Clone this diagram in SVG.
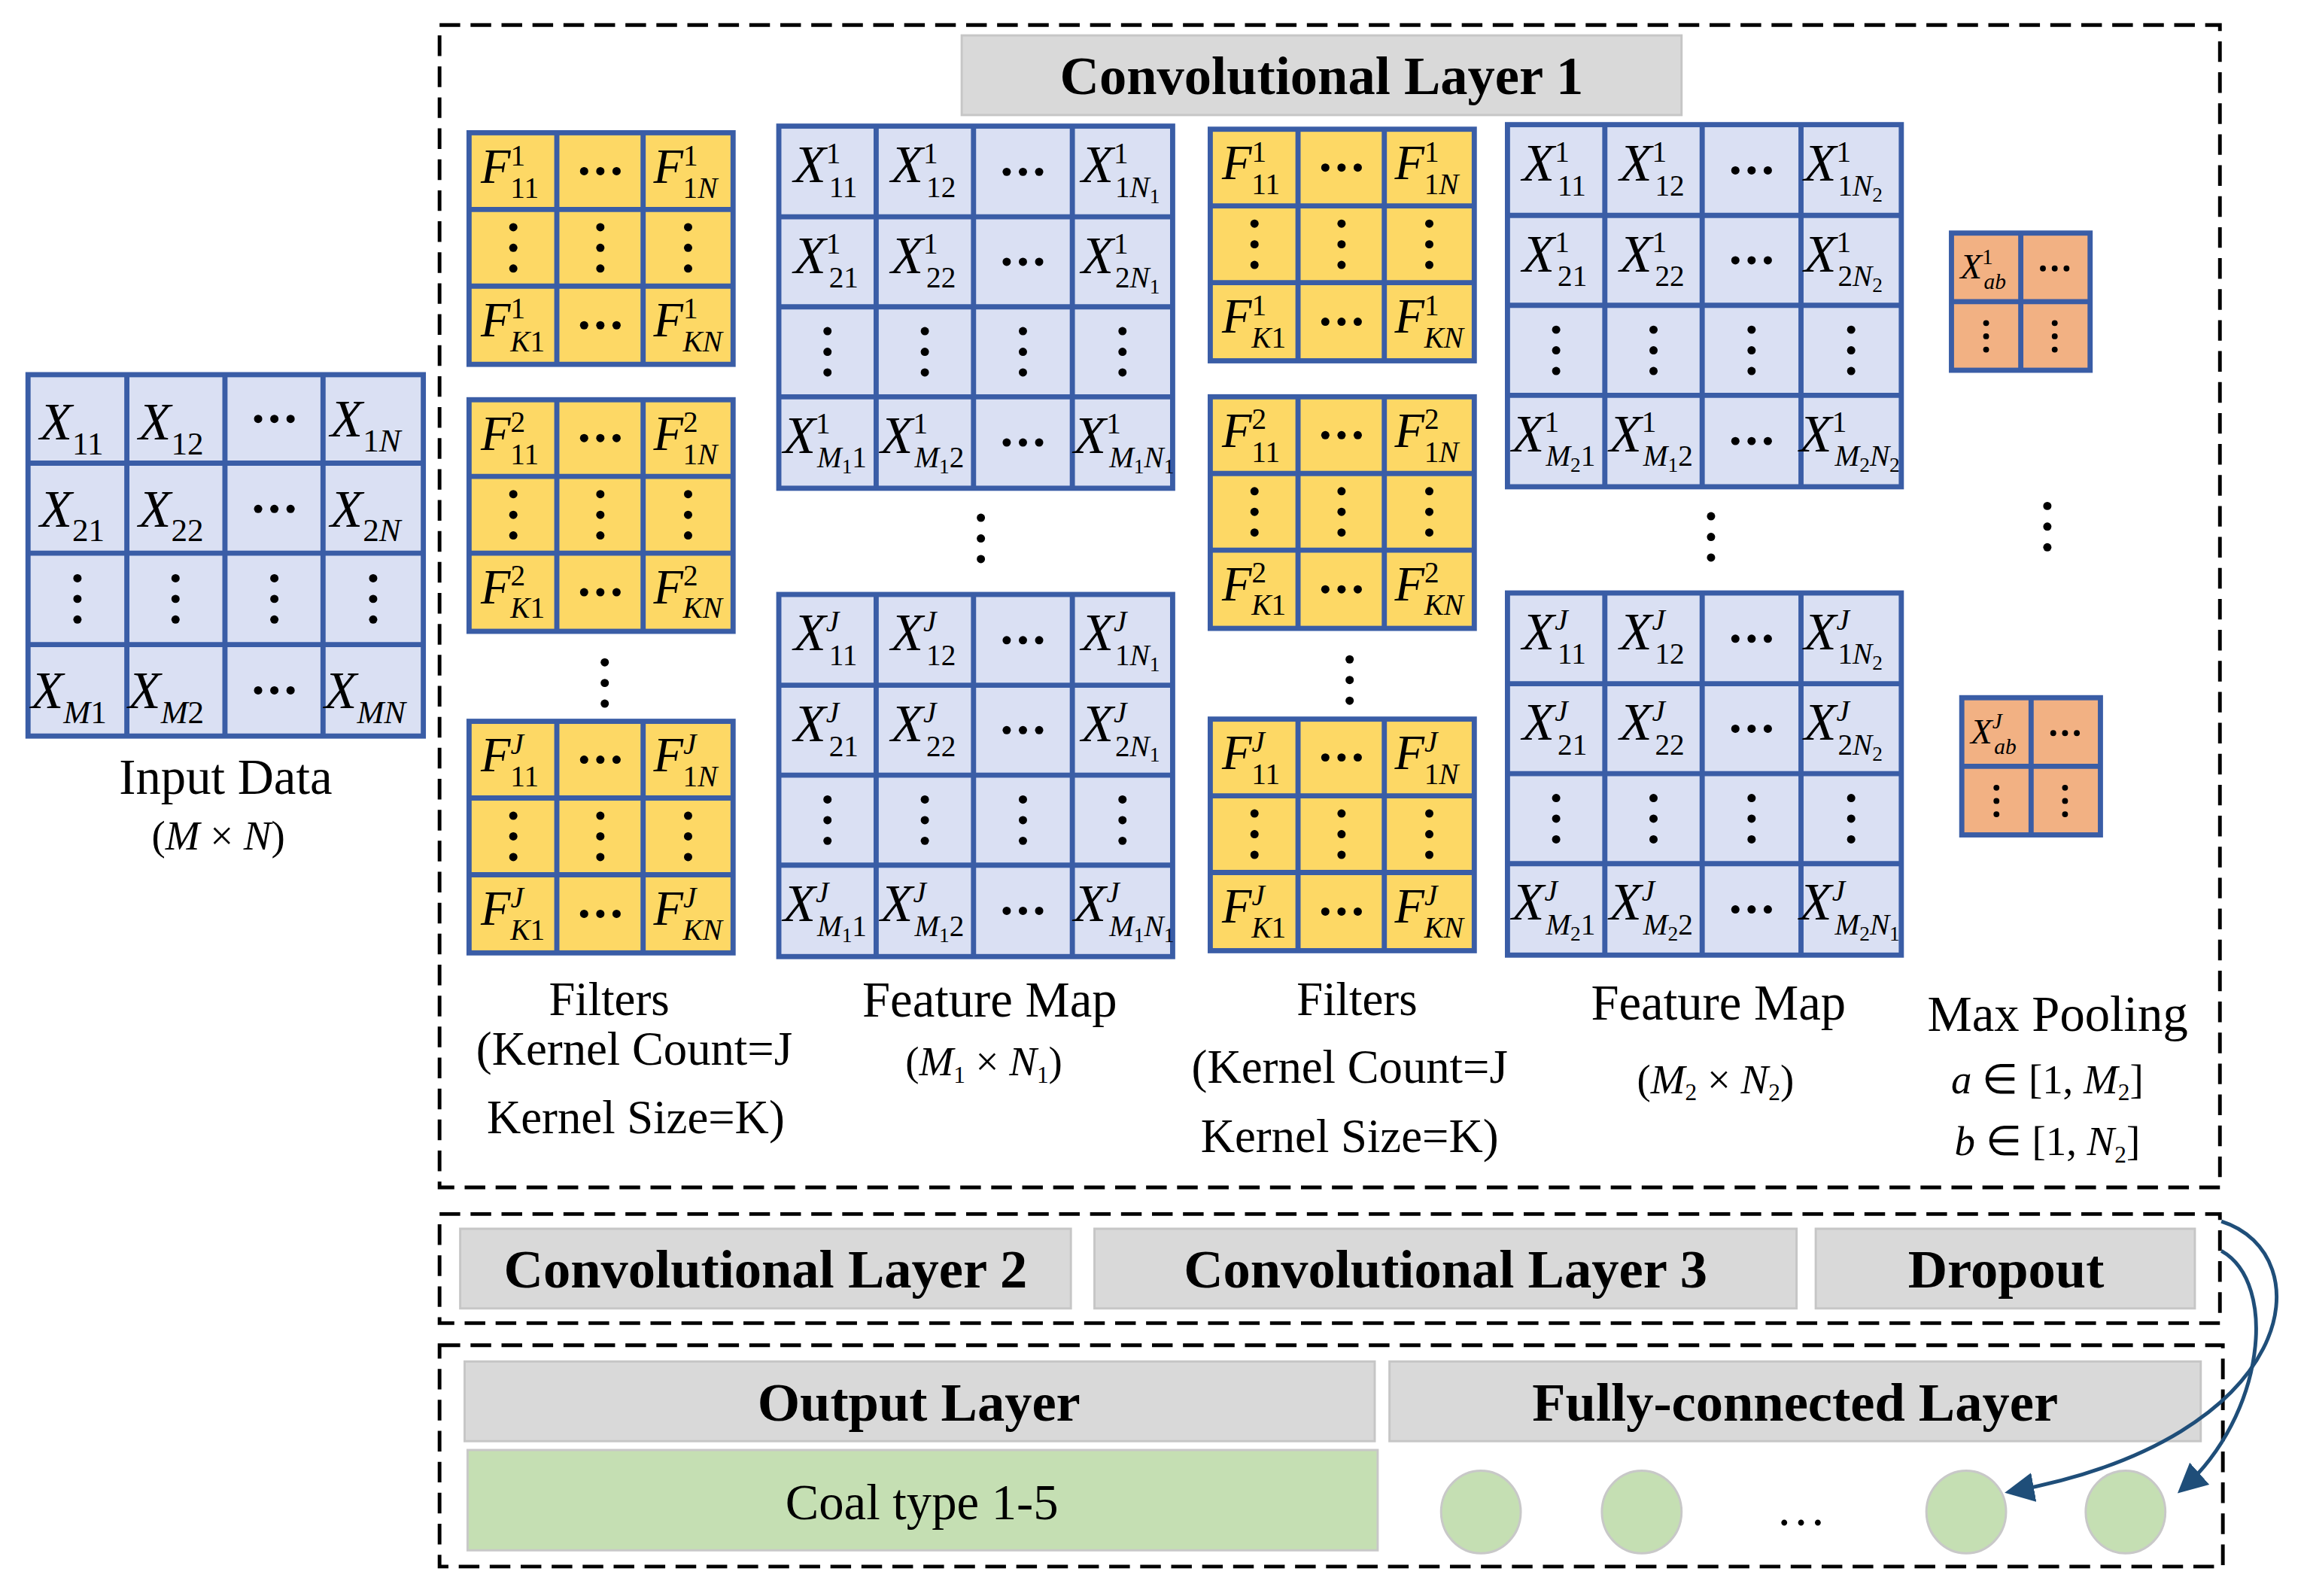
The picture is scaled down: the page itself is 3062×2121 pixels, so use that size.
<svg xmlns="http://www.w3.org/2000/svg" xmlns:xlink="http://www.w3.org/1999/xlink" width="3062" height="2121" viewBox="0 0 3062 2121">
<style>
text{font-family:"Liberation Serif",serif;fill:#000}
.v{font-style:italic;font-size:36px}
.f{font-style:italic;font-size:33px}
.p{font-style:italic;font-size:24px}
.n{font-style:normal}
.s{font-size:22px}
.t{font-size:20px}
.u{font-size:14px}
.q{font-size:15px}
.lab{font-size:34px;text-anchor:middle}
.lb2{font-size:32px;text-anchor:middle}
.b{font-weight:bold;font-size:37px;text-anchor:middle}
.blue{fill:#DAE0F3;stroke:#3A5DA6;stroke-width:3.5}
.yel{fill:#FDD865;stroke:#3A5DA6;stroke-width:3.5}
.org{fill:#F2B183;stroke:#3A5DA6;stroke-width:3.5}
.ln{stroke:#3A5DA6;stroke-width:3.5}
.gray{fill:#D9D9D9;stroke:#C6C6C6;stroke-width:1.5}
.dash{fill:none;stroke:#000;stroke-width:2.5;stroke-dasharray:14 7}
.arr{fill:none;stroke:#1F4E79;stroke-width:2.5;marker-end:url(#ah)}
</style>
<defs>
<marker id="ah" markerWidth="8" markerHeight="8" refX="6" refY="4" orient="auto" markerUnits="strokeWidth"><path d="M0,0 L8,4 L0,8 z" fill="#1F4E79"/></marker>
<g id="hd"><circle cx="-11" cy="0" r="2.8"/><circle cx="0" cy="0" r="2.8"/><circle cx="11" cy="0" r="2.8"/></g>
<g id="vd"><circle cx="0" cy="-14" r="2.8"/><circle cx="0" cy="0" r="2.8"/><circle cx="0" cy="14" r="2.8"/></g>
<g id="hds"><circle cx="-8" cy="0" r="2"/><circle cx="0" cy="0" r="2"/><circle cx="8" cy="0" r="2"/></g>
<g id="vds"><circle cx="0" cy="-9" r="2"/><circle cx="0" cy="0" r="2"/><circle cx="0" cy="9" r="2"/></g>
<g id="fgrid"><rect class="yel" x="0" y="0" width="179" height="157"/><path class="ln" d="M59.5,0V157M118,0V157M0,52H179M0,104H179"/>
<use xlink:href="#hd" x="89" y="26"/><use xlink:href="#hd" x="89" y="130.5"/><use xlink:href="#vd" x="30" y="78"/><use xlink:href="#vd" x="89" y="78"/><use xlink:href="#vd" x="148.5" y="78"/></g>
<g id="mgrid"><rect class="blue" x="0" y="0" width="267" height="245.5"/><path class="ln" d="M66,0V245.5M132,0V245.5M199,0V245.5M0,61.5H267M0,122.5H267M0,183.5H267"/>
<use xlink:href="#hd" x="165.5" y="31"/><use xlink:href="#hd" x="165.5" y="92"/><use xlink:href="#hd" x="165.5" y="214.5"/>
<use xlink:href="#vd" x="33" y="153"/><use xlink:href="#vd" x="99" y="153"/><use xlink:href="#vd" x="165.5" y="153"/><use xlink:href="#vd" x="233" y="153"/></g>
<g id="pgrid"><rect class="org" x="0" y="0" width="94" height="93"/><path class="ln" d="M47,0V93M0,46.5H94"/><use xlink:href="#hds" x="70" y="24"/><use xlink:href="#vds" x="23.5" y="70"/><use xlink:href="#vds" x="70" y="70"/></g>
</defs>
<rect width="3062" height="2121" fill="#fff"/>
<g transform="scale(1.9603)">
<g id="frames">
<rect class="dash" x="298" y="17" width="1207" height="788"/>
<rect class="dash" x="298" y="823" width="1207" height="74"/>
<rect class="dash" x="298" y="912" width="1209" height="150"/>
</g>
<g id="input">
<rect class="blue" x="19" y="254" width="268" height="245"/>
<path class="ln" d="M86,254V499M152.5,254V499M219,254V499M19,314H287M19,375H287M19,437H287"/>
<text class="v" x="27" y="298">X<tspan class="s n" dy="10">11</tspan></text>
<text class="v" x="94" y="298">X<tspan class="s n" dy="10">12</tspan></text>
<use xlink:href="#hd" x="186" y="284"/>
<text class="v" x="224" y="296">X<tspan class="s" dy="10"><tspan class="n">1</tspan>N</tspan></text>
<text class="v" x="27" y="357">X<tspan class="s n" dy="10">21</tspan></text>
<text class="v" x="94" y="357">X<tspan class="s n" dy="10">22</tspan></text>
<use xlink:href="#hd" x="186" y="345"/>
<text class="v" x="224" y="357">X<tspan class="s" dy="10"><tspan class="n">2</tspan>N</tspan></text>
<use xlink:href="#vd" x="52.5" y="406"/><use xlink:href="#vd" x="119" y="406"/><use xlink:href="#vd" x="186" y="406"/><use xlink:href="#vd" x="253" y="406"/>
<text class="v" x="21" y="480">X<tspan class="s" dy="10">M<tspan class="n">1</tspan></tspan></text>
<text class="v" x="87" y="480">X<tspan class="s" dy="10">M<tspan class="n">2</tspan></tspan></text>
<use xlink:href="#hd" x="186" y="468"/>
<text class="v" x="220" y="480">X<tspan class="s" dy="10">MN</tspan></text>
<text class="lab" x="153" y="538">Input Data</text>
<text class="lab" x="148" y="576" style="font-size:28px">(<tspan font-style="italic">M</tspan> × <tspan font-style="italic">N</tspan>)</text>
</g>
<g id="title1"><rect class="gray" x="652" y="24" width="488" height="54"/><text class="b" x="896" y="64">Convolutional Layer 1</text></g>
<g id="filters1">
<g transform="translate(318,90)"><use xlink:href="#fgrid"/>
<text class="f" x="8" y="34">F<tspan class="t n" dy="-12">1</tspan><tspan class="t n" x="28" dy="22">11</tspan></text>
<text class="f" x="125" y="34">F<tspan class="t n" dy="-12">1</tspan><tspan class="t" x="145" dy="22"><tspan class="n">1</tspan>N</tspan></text>
<text class="f" x="8" y="138">F<tspan class="t n" dy="-12">1</tspan><tspan class="t" x="28" dy="22">K<tspan class="n">1</tspan></tspan></text>
<text class="f" x="125" y="138">F<tspan class="t n" dy="-12">1</tspan><tspan class="t" x="145" dy="22">KN</tspan></text></g>
<g transform="translate(318,271)"><use xlink:href="#fgrid"/>
<text class="f" x="8" y="34">F<tspan class="t n" dy="-12">2</tspan><tspan class="t n" x="28" dy="22">11</tspan></text>
<text class="f" x="125" y="34">F<tspan class="t n" dy="-12">2</tspan><tspan class="t" x="145" dy="22"><tspan class="n">1</tspan>N</tspan></text>
<text class="f" x="8" y="138">F<tspan class="t n" dy="-12">2</tspan><tspan class="t" x="28" dy="22">K<tspan class="n">1</tspan></tspan></text>
<text class="f" x="125" y="138">F<tspan class="t n" dy="-12">2</tspan><tspan class="t" x="145" dy="22">KN</tspan></text></g>
<use xlink:href="#vd" x="410" y="463"/>
<g transform="translate(318,489)"><use xlink:href="#fgrid"/>
<text class="f" x="8" y="34">F<tspan class="t" dy="-12">J</tspan><tspan class="t n" x="28" dy="22">11</tspan></text>
<text class="f" x="125" y="34">F<tspan class="t" dy="-12">J</tspan><tspan class="t" x="145" dy="22"><tspan class="n">1</tspan>N</tspan></text>
<text class="f" x="8" y="138">F<tspan class="t" dy="-12">J</tspan><tspan class="t" x="28" dy="22">K<tspan class="n">1</tspan></tspan></text>
<text class="f" x="125" y="138">F<tspan class="t" dy="-12">J</tspan><tspan class="t" x="145" dy="22">KN</tspan></text></g>
<text class="lb2" x="413" y="688">Filters</text>
<text class="lb2" x="430" y="722">(Kernel Count=J</text>
<text class="lb2" x="431" y="768">Kernel Size=K)</text>
</g>
<g id="fmap1">
<g transform="translate(528,85.5)"><use xlink:href="#mgrid"/>
<text class="v" x="10" y="38">X<tspan class="t n" dy="-13">1</tspan><tspan class="t n" x="34" dy="23">11</tspan></text>
<text class="v" x="76" y="38">X<tspan class="t n" dy="-13">1</tspan><tspan class="t n" x="100" dy="23">12</tspan></text>
<text class="v" x="205" y="38">X<tspan class="t n" dy="-13">1</tspan><tspan class="t" x="228" dy="23"><tspan class="n">1</tspan>N<tspan class="u n" dy="4">1</tspan></tspan></text>
<text class="v" x="10" y="99.5">X<tspan class="t n" dy="-13">1</tspan><tspan class="t n" x="34" dy="23">21</tspan></text>
<text class="v" x="76" y="99.5">X<tspan class="t n" dy="-13">1</tspan><tspan class="t n" x="100" dy="23">22</tspan></text>
<text class="v" x="205" y="99.5">X<tspan class="t n" dy="-13">1</tspan><tspan class="t" x="228" dy="23"><tspan class="n">2</tspan>N<tspan class="u n" dy="4">1</tspan></tspan></text>
<text class="v" x="3" y="221.5">X<tspan class="t n" dy="-13">1</tspan><tspan class="t" x="26" dy="23">M<tspan class="u n" dy="4">1</tspan><tspan class="n" dy="-4">1</tspan></tspan></text>
<text class="v" x="69" y="221.5">X<tspan class="t n" dy="-13">1</tspan><tspan class="t" x="92" dy="23">M<tspan class="u n" dy="4">1</tspan><tspan class="n" dy="-4">2</tspan></tspan></text>
<text class="v" x="200" y="221.5">X<tspan class="t n" dy="-13">1</tspan><tspan class="t" x="224" dy="23">M<tspan class="u n" dy="4">1</tspan><tspan dy="-4">N</tspan><tspan class="u n" dy="4">1</tspan></tspan></text></g>
<use xlink:href="#vd" x="665" y="365"/>
<g transform="translate(528,403)"><use xlink:href="#mgrid"/>
<text class="v" x="10" y="38">X<tspan class="t" dy="-13">J</tspan><tspan class="t n" x="34" dy="23">11</tspan></text>
<text class="v" x="76" y="38">X<tspan class="t" dy="-13">J</tspan><tspan class="t n" x="100" dy="23">12</tspan></text>
<text class="v" x="205" y="38">X<tspan class="t" dy="-13">J</tspan><tspan class="t" x="228" dy="23"><tspan class="n">1</tspan>N<tspan class="u n" dy="4">1</tspan></tspan></text>
<text class="v" x="10" y="99.5">X<tspan class="t" dy="-13">J</tspan><tspan class="t n" x="34" dy="23">21</tspan></text>
<text class="v" x="76" y="99.5">X<tspan class="t" dy="-13">J</tspan><tspan class="t n" x="100" dy="23">22</tspan></text>
<text class="v" x="205" y="99.5">X<tspan class="t" dy="-13">J</tspan><tspan class="t" x="228" dy="23"><tspan class="n">2</tspan>N<tspan class="u n" dy="4">1</tspan></tspan></text>
<text class="v" x="3" y="221.5">X<tspan class="t" dy="-13">J</tspan><tspan class="t" x="26" dy="23">M<tspan class="u n" dy="4">1</tspan><tspan class="n" dy="-4">1</tspan></tspan></text>
<text class="v" x="69" y="221.5">X<tspan class="t" dy="-13">J</tspan><tspan class="t" x="92" dy="23">M<tspan class="u n" dy="4">1</tspan><tspan class="n" dy="-4">2</tspan></tspan></text>
<text class="v" x="200" y="221.5">X<tspan class="t" dy="-13">J</tspan><tspan class="t" x="224" dy="23">M<tspan class="u n" dy="4">1</tspan><tspan dy="-4">N</tspan><tspan class="u n" dy="4">1</tspan></tspan></text></g>
<text class="lab" x="671" y="689">Feature Map</text>
<text class="lab" x="667" y="729" style="font-size:28px">(<tspan font-style="italic">M</tspan><tspan style="font-size:16px" dy="5">1</tspan><tspan dy="-5"> × </tspan><tspan font-style="italic">N</tspan><tspan style="font-size:16px" dy="5">1</tspan><tspan dy="-5">)</tspan></text>
</g>
<g id="filters2">
<g transform="translate(820.5,87.6)"><use xlink:href="#fgrid"/>
<text class="f" x="8" y="34">F<tspan class="t n" dy="-12">1</tspan><tspan class="t n" x="28" dy="22">11</tspan></text>
<text class="f" x="125" y="34">F<tspan class="t n" dy="-12">1</tspan><tspan class="t" x="145" dy="22"><tspan class="n">1</tspan>N</tspan></text>
<text class="f" x="8" y="138">F<tspan class="t n" dy="-12">1</tspan><tspan class="t" x="28" dy="22">K<tspan class="n">1</tspan></tspan></text>
<text class="f" x="125" y="138">F<tspan class="t n" dy="-12">1</tspan><tspan class="t" x="145" dy="22">KN</tspan></text></g>
<g transform="translate(820.5,269)"><use xlink:href="#fgrid"/>
<text class="f" x="8" y="34">F<tspan class="t n" dy="-12">2</tspan><tspan class="t n" x="28" dy="22">11</tspan></text>
<text class="f" x="125" y="34">F<tspan class="t n" dy="-12">2</tspan><tspan class="t" x="145" dy="22"><tspan class="n">1</tspan>N</tspan></text>
<text class="f" x="8" y="138">F<tspan class="t n" dy="-12">2</tspan><tspan class="t" x="28" dy="22">K<tspan class="n">1</tspan></tspan></text>
<text class="f" x="125" y="138">F<tspan class="t n" dy="-12">2</tspan><tspan class="t" x="145" dy="22">KN</tspan></text></g>
<use xlink:href="#vd" x="915" y="461"/>
<g transform="translate(820.5,487.5)"><use xlink:href="#fgrid"/>
<text class="f" x="8" y="34">F<tspan class="t" dy="-12">J</tspan><tspan class="t n" x="28" dy="22">11</tspan></text>
<text class="f" x="125" y="34">F<tspan class="t" dy="-12">J</tspan><tspan class="t" x="145" dy="22"><tspan class="n">1</tspan>N</tspan></text>
<text class="f" x="8" y="138">F<tspan class="t" dy="-12">J</tspan><tspan class="t" x="28" dy="22">K<tspan class="n">1</tspan></tspan></text>
<text class="f" x="125" y="138">F<tspan class="t" dy="-12">J</tspan><tspan class="t" x="145" dy="22">KN</tspan></text></g>
<text class="lb2" x="920" y="688">Filters</text>
<text class="lb2" x="915" y="734">(Kernel Count=J</text>
<text class="lb2" x="915" y="781">Kernel Size=K)</text>
</g>
<g id="fmap2">
<g transform="translate(1022,84.5)"><use xlink:href="#mgrid"/>
<text class="v" x="10" y="38">X<tspan class="t n" dy="-13">1</tspan><tspan class="t n" x="34" dy="23">11</tspan></text>
<text class="v" x="76" y="38">X<tspan class="t n" dy="-13">1</tspan><tspan class="t n" x="100" dy="23">12</tspan></text>
<text class="v" x="201" y="38">X<tspan class="t n" dy="-13">1</tspan><tspan class="t" x="224" dy="23"><tspan class="n">1</tspan>N<tspan class="u n" dy="4">2</tspan></tspan></text>
<text class="v" x="10" y="99.5">X<tspan class="t n" dy="-13">1</tspan><tspan class="t n" x="34" dy="23">21</tspan></text>
<text class="v" x="76" y="99.5">X<tspan class="t n" dy="-13">1</tspan><tspan class="t n" x="100" dy="23">22</tspan></text>
<text class="v" x="201" y="99.5">X<tspan class="t n" dy="-13">1</tspan><tspan class="t" x="224" dy="23"><tspan class="n">2</tspan>N<tspan class="u n" dy="4">2</tspan></tspan></text>
<text class="v" x="3" y="221.5">X<tspan class="t n" dy="-13">1</tspan><tspan class="t" x="26" dy="23">M<tspan class="u n" dy="4">2</tspan><tspan class="n" dy="-4">1</tspan></tspan></text>
<text class="v" x="69" y="221.5">X<tspan class="t n" dy="-13">1</tspan><tspan class="t" x="92" dy="23">M<tspan class="u n" dy="4">1</tspan><tspan class="n" dy="-4">2</tspan></tspan></text>
<text class="v" x="198" y="221.5">X<tspan class="t n" dy="-13">1</tspan><tspan class="t" x="222" dy="23">M<tspan class="u n" dy="4">2</tspan><tspan dy="-4">N</tspan><tspan class="u n" dy="4">2</tspan></tspan></text></g>
<use xlink:href="#vd" x="1160" y="364"/>
<g transform="translate(1022,402)"><use xlink:href="#mgrid"/>
<text class="v" x="10" y="38">X<tspan class="t" dy="-13">J</tspan><tspan class="t n" x="34" dy="23">11</tspan></text>
<text class="v" x="76" y="38">X<tspan class="t" dy="-13">J</tspan><tspan class="t n" x="100" dy="23">12</tspan></text>
<text class="v" x="201" y="38">X<tspan class="t" dy="-13">J</tspan><tspan class="t" x="224" dy="23"><tspan class="n">1</tspan>N<tspan class="u n" dy="4">2</tspan></tspan></text>
<text class="v" x="10" y="99.5">X<tspan class="t" dy="-13">J</tspan><tspan class="t n" x="34" dy="23">21</tspan></text>
<text class="v" x="76" y="99.5">X<tspan class="t" dy="-13">J</tspan><tspan class="t n" x="100" dy="23">22</tspan></text>
<text class="v" x="201" y="99.5">X<tspan class="t" dy="-13">J</tspan><tspan class="t" x="224" dy="23"><tspan class="n">2</tspan>N<tspan class="u n" dy="4">2</tspan></tspan></text>
<text class="v" x="3" y="221.5">X<tspan class="t" dy="-13">J</tspan><tspan class="t" x="26" dy="23">M<tspan class="u n" dy="4">2</tspan><tspan class="n" dy="-4">1</tspan></tspan></text>
<text class="v" x="69" y="221.5">X<tspan class="t" dy="-13">J</tspan><tspan class="t" x="92" dy="23">M<tspan class="u n" dy="4">2</tspan><tspan class="n" dy="-4">2</tspan></tspan></text>
<text class="v" x="198" y="221.5">X<tspan class="t" dy="-13">J</tspan><tspan class="t" x="222" dy="23">M<tspan class="u n" dy="4">2</tspan><tspan dy="-4">N</tspan><tspan class="u n" dy="4">1</tspan></tspan></text></g>
<text class="lab" x="1165" y="691">Feature Map</text>
<text class="lab" x="1163" y="741" style="font-size:28px">(<tspan font-style="italic">M</tspan><tspan style="font-size:16px" dy="5">2</tspan><tspan dy="-5"> × </tspan><tspan font-style="italic">N</tspan><tspan style="font-size:16px" dy="5">2</tspan><tspan dy="-5">)</tspan></text>
</g>
<g id="pool">
<g transform="translate(1323,158)"><use xlink:href="#pgrid"/>
<text class="p" x="6" y="31">X<tspan class="q n" dy="-10">1</tspan><tspan class="q" x="22" dy="17">ab</tspan></text></g>
<use xlink:href="#vd" x="1388" y="357"/>
<g transform="translate(1330,473)"><use xlink:href="#pgrid"/>
<text class="p" x="6" y="31">X<tspan class="q" dy="-10">J</tspan><tspan class="q" x="22" dy="17">ab</tspan></text></g>
<text class="lab" x="1395" y="699">Max Pooling</text>
<text class="lab" x="1388" y="741" style="font-size:28px"><tspan font-style="italic">a</tspan> ∈ [1, <tspan font-style="italic">M</tspan><tspan style="font-size:16px" dy="5">2</tspan><tspan dy="-5">]</tspan></text>
<text class="lab" x="1388" y="783" style="font-size:28px"><tspan font-style="italic">b</tspan> ∈ [1, <tspan font-style="italic">N</tspan><tspan style="font-size:16px" dy="5">2</tspan><tspan dy="-5">]</tspan></text>
</g>
<g id="row2">
<rect class="gray" x="312" y="833" width="414" height="54"/><text class="b" x="519" y="873">Convolutional Layer 2</text>
<rect class="gray" x="742" y="833" width="476" height="54"/><text class="b" x="980" y="873">Convolutional Layer 3</text>
<rect class="gray" x="1231" y="833" width="257" height="54"/><text class="b" x="1360" y="873">Dropout</text>
</g>
<g id="row3">
<rect class="gray" x="315" y="923" width="617" height="54"/><text class="b" x="623" y="963">Output Layer</text>
<rect class="gray" x="942" y="923" width="550" height="54"/><text class="b" x="1217" y="963">Fully-connected Layer</text>
<rect x="317" y="983" width="617" height="68" fill="#C5DFB3" stroke="#C8C8C8" stroke-width="1.5"/>
<text class="lab" x="625" y="1030">Coal type 1-5</text>
<g fill="#C5DFB3" stroke="#C8C8C8" stroke-width="1.5">
<ellipse cx="1004" cy="1025" rx="27" ry="28"/><ellipse cx="1113" cy="1025" rx="27" ry="28"/><ellipse cx="1333" cy="1025" rx="27" ry="28"/><ellipse cx="1441" cy="1025" rx="27" ry="28"/></g>
<text class="lab" x="1221" y="1034">…</text>
</g>
<g id="connectors">
<path class="arr" d="M1506,828 C1575,850 1560,975 1364,1011"/>
<path class="arr" d="M1506,848 C1545,870 1535,960 1480,1009"/>
</g>
</g>
</svg>
